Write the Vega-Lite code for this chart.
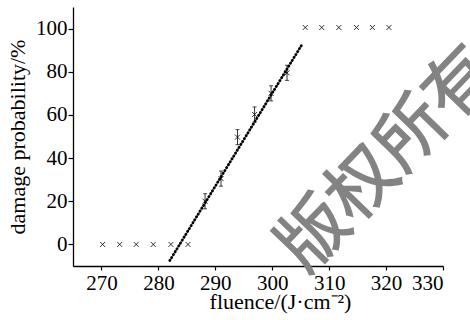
{
  "$schema": "https://vega.github.io/schema/vega-lite/v6.json",
  "autosize": {"type": "none"},
  "width": 370,
  "height": 259,
  "padding": {"left": 73, "top": 7, "right": 27, "bottom": 54},
  "background": "white",
  "config": {
    "view": {"stroke": null},
    "font": "Liberation Serif",
    "axis": {"domainColor": "black", "tickColor": "black", "labelColor": "black", "titleColor": "black", "grid": false, "labelFont": "Liberation Serif", "titleFont": "Liberation Serif", "labelFontSize": 21, "titleFontSize": 22, "titleFontWeight": "normal", "domainWidth": 1.3, "tickWidth": 1.2}
  },
  "datasets": {
    "pts": [
      {"fluence": 270.2, "prob": 0, "err": 0},
      {"fluence": 273.2, "prob": 0, "err": 0},
      {"fluence": 276.1, "prob": 0, "err": 0},
      {"fluence": 279.1, "prob": 0, "err": 0},
      {"fluence": 282.2, "prob": 0, "err": 0},
      {"fluence": 285.2, "prob": 0, "err": 0},
      {"fluence": 288.2, "prob": 20, "err": 3.5},
      {"fluence": 291.0, "prob": 30.5, "err": 3.5},
      {"fluence": 293.9, "prob": 49.7, "err": 3.5},
      {"fluence": 296.9, "prob": 60.2, "err": 3.5},
      {"fluence": 299.8, "prob": 70, "err": 3.5},
      {"fluence": 302.6, "prob": 79.5, "err": 3.5},
      {"fluence": 305.8, "prob": 100.5, "err": 0},
      {"fluence": 308.7, "prob": 100.5, "err": 0},
      {"fluence": 311.7, "prob": 100.5, "err": 0},
      {"fluence": 314.8, "prob": 100.5, "err": 0},
      {"fluence": 317.6, "prob": 100.5, "err": 0},
      {"fluence": 320.5, "prob": 100.5, "err": 0}
    ],
    "fit": [
      {"fluence": 282.0, "prob": -7.5},
      {"fluence": 305.2, "prob": 92.5}
    ],
    "wm": [
      {"fluence": 320.4, "prob": 39, "label": "版权所有"}
    ]
  },
  "layer": [
    {
      "data": {"name": "wm"},
      "mark": {"type": "text", "font": "Noto Sans CJK SC", "fontSize": 70, "fontWeight": 500, "color": "#838383", "angle": -46, "align": "center", "baseline": "middle"},
      "encoding": {
        "x": {"field": "fluence", "type": "quantitative", "title": "fluence/(J·cm⁻²)", "scale": {"domain": [265, 330], "nice": false, "zero": false},
          "axis": {"values": [270,275,280,285,290,295,300,305,310,315,320,325,330], "labelExpr": "datum.value % 10 === 0 ? datum.label : ''", "tickSize": {"condition": {"test": "datum.value % 10 !== 0", "value": -3}, "value": 4}, "labelPadding": 2, "titleX": 207, "titleY": 42, "titleBaseline": "alphabetic"}},
        "y": {"field": "prob", "type": "quantitative", "title": "damage probability/%", "scale": {"domain": [-10, 110], "nice": false, "zero": false},
          "axis": {"values": [0,10,20,30,40,50,60,70,80,90,100], "labelExpr": "datum.value % 20 === 0 ? datum.label : ''", "tickSize": {"condition": {"test": "datum.value % 20 !== 0", "value": 2}, "value": 5}, "labelPadding": 1, "titlePadding": 6}},
        "text": {"field": "label"}
      }
    },
    {
      "data": {"name": "fit"},
      "mark": {"type": "line", "color": "black", "strokeWidth": 2.8, "strokeDash": [0.4, 3], "strokeCap": "round"},
      "encoding": {
        "x": {"field": "fluence", "type": "quantitative", "title": "fluence/(J·cm⁻²)"},
        "y": {"field": "prob", "type": "quantitative", "title": "damage probability/%"}
      }
    },
    {
      "data": {"name": "pts"},
      "transform": [{"filter": "datum.err > 0"}],
      "mark": {"type": "errorbar", "ticks": {"size": 4, "color": "black", "strokeWidth": 0.8}, "rule": {"color": "black", "strokeWidth": 0.8}},
      "encoding": {
        "x": {"field": "fluence", "type": "quantitative", "title": "fluence/(J·cm⁻²)"},
        "y": {"field": "prob", "type": "quantitative", "title": "damage probability/%"},
        "yError": {"field": "err"}
      }
    },
    {
      "data": {"name": "pts"},
      "mark": {"type": "point", "shape": "M-1,-1L1,1M-1,1L1,-1", "filled": false, "stroke": "black", "strokeWidth": 0.8, "size": 25, "opacity": 1},
      "encoding": {
        "x": {"field": "fluence", "type": "quantitative", "title": "fluence/(J·cm⁻²)"},
        "y": {"field": "prob", "type": "quantitative", "title": "damage probability/%"}
      }
    }
  ]
}
